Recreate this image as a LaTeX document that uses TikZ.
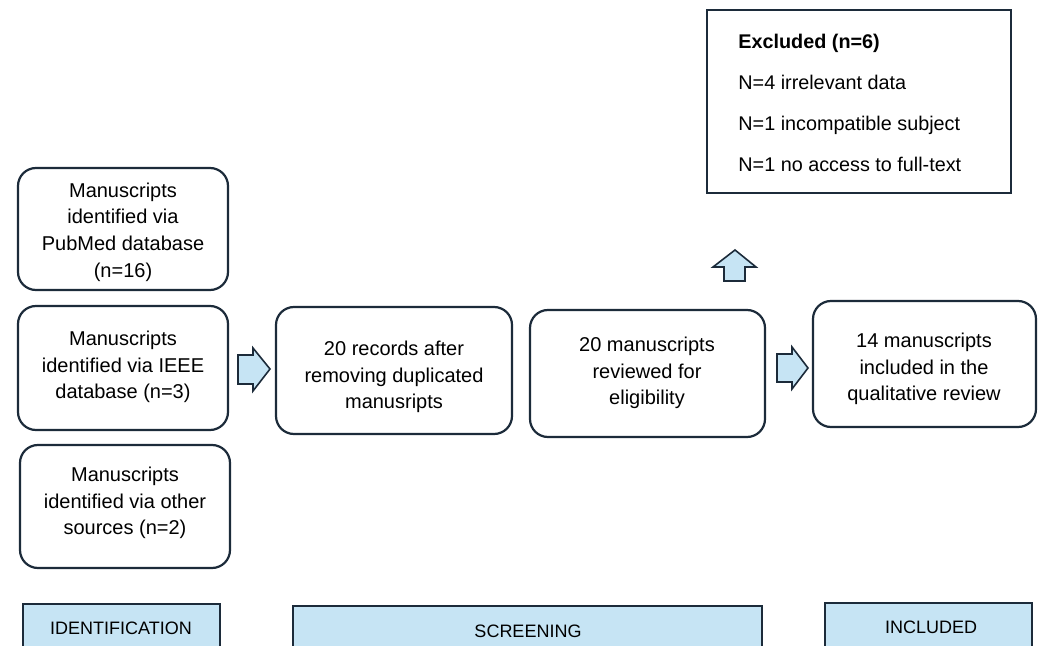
\documentclass[tikz,border=0pt]{standalone}
\usepackage{fontspec}
\setmainfont{Liberation Sans}
\definecolor{edge}{HTML}{1C2B3A}
\definecolor{pale}{HTML}{C6E4F4}
\tikzset{
  rbox/.style={draw=edge, line width=1.1pt, rounded corners=9pt, fill=white, align=center,
    font=\fontsize{10}{13.3}\selectfont, inner sep=0pt},
  exbox/.style={draw=edge, line width=0.9pt, fill=white},
  extext/.style={anchor=base west, font=\fontsize{9.9}{10}\selectfont, inner sep=0pt},
  blockarrow/.style={draw=edge, line width=0.8pt, fill=pale, line join=miter},
  bar/.style={draw=edge, line width=0.6pt, fill=pale},
  bartext/.style={font=\fontsize{9}{10}\selectfont, inner sep=0pt}
}
\begin{document}
\begin{tikzpicture}[x=0.5pt,y=-0.5pt]
\useasboundingbox (0,0) rectangle (1038,646);
% identification boxes
\draw[rbox] (18,168) rectangle (228,290);
\node[rbox, draw=none, fill=none] (pubmed) at (123,232) {Manuscripts\\identified via\\PubMed database\\(n=16)};
\draw[rbox] (18,306) rectangle (228,430);
\node[rbox, draw=none, fill=none] (ieee) at (123,367) {Manuscripts\\identified via IEEE\\database (n=3)};
\draw[rbox] (20,445) rectangle (230,568);
\node[rbox, draw=none, fill=none] (other) at (125,503) {Manuscripts\\identified via other\\sources (n=2)};
% screening
\draw[rbox] (276,307) rectangle (512,434);
\node[rbox, draw=none, fill=none] (records) at (394,377) {20 records after\\removing duplicated\\manusripts};
\draw[rbox] (530,310) rectangle (765,437);
\node[rbox, draw=none, fill=none] (reviewed) at (647,373) {20 manuscripts\\reviewed for\\eligibility};
% included
\draw[rbox] (813,301) rectangle (1036,427);
\node[rbox, draw=none, fill=none] (included) at (924,369) {14 manuscripts\\included in the\\qualitative review};
% excluded
\draw[exbox] (707,10) rectangle (1011,193);
\node[extext, font=\fontsize{9.9}{10}\selectfont\bfseries] (ex0) at (738,49) {Excluded (n=6)};
\node[extext] (ex1) at (738,90) {N=4 irrelevant data};
\node[extext] (ex2) at (738,131) {N=1 incompatible subject};
\node[extext] (ex3) at (738,172) {N=1 no access to full-text};
% block arrows
\draw[blockarrow] (238,355) -- (253,355) -- (253,348) -- (270,369) -- (253,391) -- (253,384) -- (238,384) -- cycle;
\draw[blockarrow] (777,354) -- (792,354) -- (792,347) -- (808,368) -- (792,389) -- (792,382) -- (777,382) -- cycle;
\draw[blockarrow] (724,281) -- (724,267) -- (713,267) -- (735,250) -- (756,267) -- (745,267) -- (745,281) -- cycle;
% bottom bars
\fill[pale] (23,604) rectangle (220,646);
\draw[bar, fill=none] (23,646) -- (23,604) -- (220,604) -- (220,646);
\node[bartext] (idlab) at (121,628) {IDENTIFICATION};
\fill[pale] (293,606) rectangle (762,646);
\draw[bar, fill=none] (293,646) -- (293,606) -- (762,606) -- (762,646);
\node[bartext] (sclab) at (528,631) {SCREENING};
\fill[pale] (825,603) rectangle (1032,646);
\draw[bar, fill=none] (825,646) -- (825,603) -- (1032,603) -- (1032,646);
\node[bartext] (inlab) at (931,627) {INCLUDED};
\end{tikzpicture}
\end{document}
